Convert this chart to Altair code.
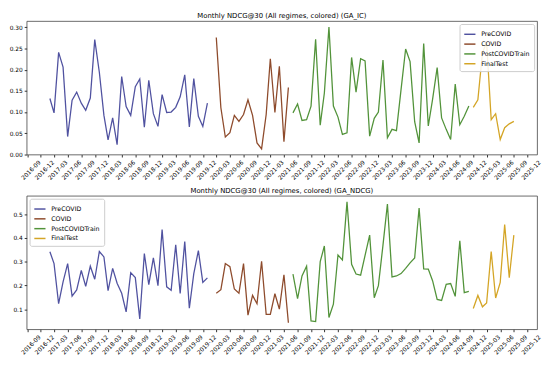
import altair as alt
import pandas as pd

regimes = ["PreCOVID", "COVID", "PostCOVIDTrain", "FinalTest"]
colors = ["#5052a0", "#8e4b2c", "#52933a", "#d4a526"]

# first month (month-end dates) of each regime
starts = {"PreCOVID": "2017-01", "COVID": "2020-02", "PostCOVIDTrain": "2021-07", "FinalTest": "2024-11"}

ic_pre = [0.132, 0.098, 0.241, 0.206, 0.042, 0.128, 0.147, 0.121, 0.104, 0.133, 0.271, 0.194,
          0.092, 0.034, 0.086, 0.023, 0.184, 0.113, 0.092, 0.160, 0.178, 0.064, 0.175, 0.096,
          0.066, 0.141, 0.099, 0.100, 0.111, 0.136, 0.188, 0.065, 0.179, 0.090, 0.066, 0.121]
ic_covid = [0.276, 0.110, 0.041, 0.051, 0.092, 0.078, 0.094, 0.129, 0.092, 0.027, 0.013, 0.094,
            0.226, 0.099, 0.208, 0.030, 0.158]
ic_post = [0.098, 0.119, 0.080, 0.082, 0.114, 0.272, 0.069, 0.145, 0.301, 0.114, 0.088, 0.047,
           0.051, 0.229, 0.147, 0.226, 0.221, 0.043, 0.085, 0.100, 0.223, 0.039, 0.059, 0.056,
           0.153, 0.249, 0.219, 0.077, 0.027, 0.262, 0.067, 0.130, 0.205, 0.086, 0.059, 0.035,
           0.166, 0.070, 0.090, 0.114]
ic_final = [0.111, 0.129, 0.240, 0.265, 0.082, 0.096, 0.035, 0.063, 0.072, 0.078]

nd_pre = [0.342, 0.292, 0.123, 0.215, 0.292, 0.155, 0.181, 0.263, 0.196, 0.281, 0.226, 0.343,
          0.320, 0.178, 0.272, 0.209, 0.167, 0.089, 0.254, 0.233, 0.059, 0.334, 0.203, 0.316,
          0.199, 0.435, 0.194, 0.180, 0.371, 0.166, 0.385, 0.104, 0.250, 0.347, 0.213, 0.232]
nd_covid = [0.167, 0.182, 0.292, 0.279, 0.185, 0.167, 0.292, 0.075, 0.158, 0.123, 0.302, 0.078,
            0.078, 0.165, 0.100, 0.245, 0.043]
nd_post = [0.248, 0.144, 0.240, 0.281, 0.051, 0.048, 0.300, 0.366, 0.065, 0.121, 0.328, 0.307,
           0.552, 0.289, 0.248, 0.243, 0.327, 0.412, 0.148, 0.199, 0.370, 0.543, 0.236, 0.240,
           0.250, 0.272, 0.295, 0.316, 0.526, 0.270, 0.269, 0.220, 0.141, 0.137, 0.205, 0.208,
           0.154, 0.388, 0.170, 0.175]
nd_final = [0.103, 0.158, 0.110, 0.126, 0.343, 0.147, 0.213, 0.456, 0.233, 0.412]

# quarterly tick months
tick_months = [(y, m) for y in range(2016, 2026) for m in (3, 6, 9, 12)
               if (y, m) >= (2016, 9) and (y, m) <= (2025, 12)]

FONT = "DejaVu Sans"


def month_end_dates(start, n):
    first = pd.Timestamp(start + "-01") + pd.offsets.MonthBegin(1)
    d = pd.date_range(first, periods=n, freq="MS") - pd.Timedelta(days=1)
    return [x.strftime("%Y-%m-%d") for x in d]


def make_df(series):
    rows = []
    for reg, vals in zip(regimes, series):
        for d, v in zip(month_end_dates(starts[reg], len(vals)), vals):
            rows.append({"date": d, "value": v, "regime": reg})
    return pd.DataFrame(rows)


x_domain = [alt.DateTime(year=2016, month=8, date=27, utc=True),
            alt.DateTime(year=2026, month=2, date=4, utc=True)]
x_ticks = [alt.DateTime(year=y, month=m, date=1, utc=True) for y, m in tick_months]


def panel(series, title, ydom, yvals, yfmt, lorient):
    df = make_df(series)
    return alt.Chart(df).mark_line(strokeWidth=1.3).encode(
        x=alt.X("date:T",
                scale=alt.Scale(type="utc", domain=x_domain),
                axis=alt.Axis(values=x_ticks, format="%Y-%m", labelAngle=-45, title=None,
                              labelOffset=10, labelFlush=False, labelOverlap=False)),
        y=alt.Y("value:Q",
                scale=alt.Scale(domain=ydom, nice=False, zero=False),
                axis=alt.Axis(values=yvals, format=yfmt, title=None)),
        color=alt.Color("regime:N",
                        scale=alt.Scale(domain=regimes, range=colors),
                        legend=alt.Legend(title=None, orient=lorient, offset=3, padding=4,
                                          fillColor="rgba(255,255,255,0.85)", strokeColor="#cccccc",
                                          cornerRadius=2, symbolType="stroke", symbolStrokeWidth=1.5,
                                          symbolSize=130, labelFontSize=6.4, labelFont=FONT,
                                          rowPadding=0, labelOffset=5)),
    ).properties(width=520, height=136,
                 title=alt.Title(title, fontSize=7.0, fontWeight="normal", font=FONT,
                                 anchor="middle", frame="group", offset=2, color="black"))


top = panel([ic_pre, ic_covid, ic_post, ic_final],
            "Monthly NDCG@30 (All regimes, colored) (GA_IC)",
            [-0.0005, 0.315], [0.0, 0.05, 0.10, 0.15, 0.20, 0.25, 0.30], ".2f", "top-right")
bottom = panel([nd_pre, nd_covid, nd_post, nd_final],
               "Monthly NDCG@30 (All regimes, colored) (GA_NDCG)",
               [0.0155, 0.5775], [0.1, 0.2, 0.3, 0.4, 0.5], ".1f", "top-left")

chart = alt.vconcat(top, bottom, spacing=5).resolve_scale(
    color="independent").resolve_legend(color="independent").properties(
    padding=0, background="white"
).configure_view(stroke="#444444", strokeWidth=0.8).configure_axis(
    domain=False, grid=False, labelFont=FONT, labelFontSize=6, labelColor="black",
    tickColor="#333333", tickSize=2.5, labelPadding=2
)

chart.save("out.html", embed_options={"renderer": "svg", "actions": False})
